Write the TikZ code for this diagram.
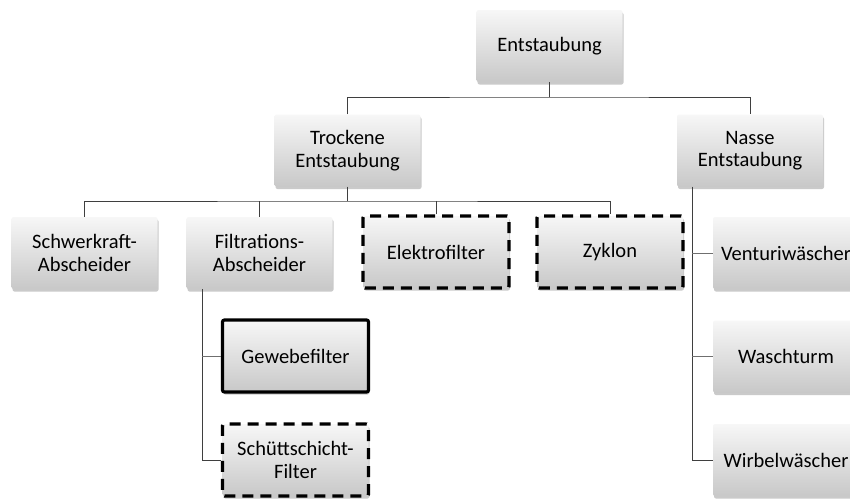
\documentclass[tikz,border=0pt]{standalone}
\usepackage{fontspec}
\setmainfont{Carlito}
\usetikzlibrary{shadows}
\definecolor{boxtop}{HTML}{F7F7F7}
\definecolor{boxbot}{HTML}{C8C8C8}
\definecolor{linec}{HTML}{3F3F3F}
\definecolor{branchc}{HTML}{6F6F6F}
\begin{document}
\begin{tikzpicture}[x=1pt,y=-1pt,
  box/.style={rectangle, rounded corners=2pt, minimum width=146pt, minimum height=72pt,
    inner sep=2pt, align=center, top color=boxtop, bottom color=boxbot, draw=none,
    font=\fontsize{20.5}{22.5}\selectfont,
    drop shadow={shadow xshift=1pt, shadow yshift=-2.5pt, opacity=0.35, fill=black!60}},
  dbox/.style={box, draw=black, line width=3.4pt, dash pattern=on 11pt off 7pt},
  sbox/.style={box, draw=black, line width=3.2pt},
  bus/.style={draw=linec, line width=1pt},
  branch/.style={draw=branchc, line width=1pt}]
\useasboundingbox (0,0) rectangle (850,498);
\clip (0,0) rectangle (850,498);
% nodes
\node[box] (E) at (549.5,46) {Entstaubung};
\node[box] (T) at (347.5,150.5) {Trockene\\Entstaubung};
\node[box] (N) at (750,150.5) {Nasse\\Entstaubung};
\node[box] (S) at (84.5,253) {Schwerkraft-\\Abscheider};
\node[box] (F) at (259.5,253) {Filtrations-\\Abscheider};
\node[dbox] (El) at (436,252) {Elektrofilter};
\node[dbox] (Z) at (610,252) {Zyklon};
\node[box] (V) at (786,253) {Venturiwäscher};
\node[box] (W) at (786,356.5) {Waschturm};
\node[box] (Wi) at (786,460) {Wirbelwäscher};
\node[sbox] (G) at (295.5,356) {Gewebefilter};
\node[dbox] (Sch) at (295.5,460) {Schüttschicht-\\Filter};
% coordinates for buses
\coordinate (b1) at (549.5,97);
\coordinate (b2) at (347.5,201);
\coordinate (fb) at (202,289);
\coordinate (nb) at (692,186.5);
% connectors
\draw[bus] (E.south) -- (b1);
\draw[bus] (T.north) |- (b1) -| (N.north);
\draw[bus] (T.south) -- (b2);
\draw[bus] (S.north) |- (b2) -| (Z.north);
\draw[bus] (F.north) -- (F.north |- b2);
\draw[bus] (El.north) -- (El.north |- b2);
\draw[bus] (fb) |- (Sch.west);
\draw[branch] (G.west) -- (G.west -| fb);
\draw[bus] (nb) |- (Wi.west);
\draw[branch] (V.west) -- (V.west -| nb);
\draw[branch] (W.west) -- (W.west -| nb);
\end{tikzpicture}
\end{document}
